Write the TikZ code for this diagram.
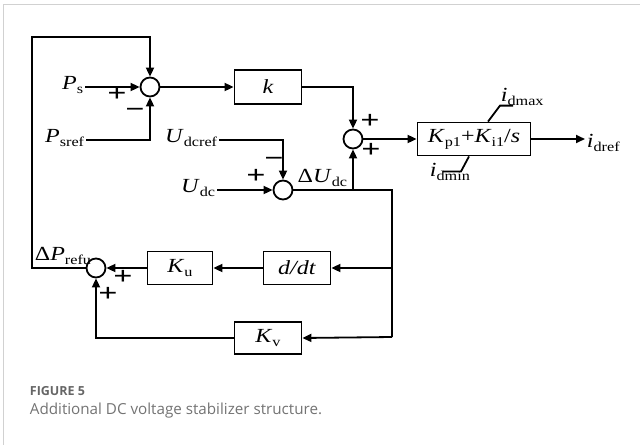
\documentclass[tikz,border=0pt]{standalone}
\usepackage{fontspec}
\setmainfont{Liberation Serif}[FakeStretch=1.2]
\newfontfamily\sgnfont{Liberation Serif}[FakeStretch=1.35]
\newfontfamily\capfont{Open Sans}
\usetikzlibrary{arrows.meta}
\newcommand{\lsub}[1]{\raisebox{-0.45ex}{\fontsize{13.5}{14}\selectfont #1}}

\begin{document}
\begin{tikzpicture}[x=1pt,y=-1pt,line width=1.8pt,
    sumnode/.style={draw,circle,minimum size=19pt,inner sep=0pt},
    blk/.style={draw,rectangle,inner sep=0pt,font=\fontsize{20}{22}\selectfont},
    lbl/.style={inner sep=1pt,font=\fontsize{20}{22}\selectfont},
    sgn/.style={inner sep=0pt,text height=8pt,text depth=0pt,font=\sgnfont\fontsize{25}{25}\selectfont\bfseries},
    arr/.style={-{Triangle[length=9pt,width=8pt]}}]
  \useasboundingbox (0,0) rectangle (640,445);
  \draw[line width=1pt,black!18] (640,4) -- (3,4) -- (3,445);

  \node[sumnode] (sum1) at (150,87) {};
  \node[sumnode] (sum2) at (353,139) {};
  \node[sumnode] (sum3) at (283,190) {};
  \node[sumnode] (sum4) at (96,268) {};

  \node[blk,minimum width=67pt,minimum height=34pt] (kbox) at (268,87) {\textit{k}};
  \node[blk,minimum width=113pt,minimum height=33pt] (pi) at (474,139)
    {\textit{K}\lsub{p1}+\textit{K}\lsub{i1}/\textit{s}};
  \node[blk,minimum width=67pt,minimum height=33pt] (ddt) at (297,268) {\textit{d/dt}};
  \node[blk,minimum width=65pt,minimum height=33pt] (ku) at (180,268) {\textit{K}\lsub{u}};
  \node[blk,minimum width=67pt,minimum height=32pt] (kv) at (268,338) {\textit{K}\lsub{v}};

  \node[lbl,anchor=mid east] (ps) at (85,87) {\textit{P}\lsub{s}};
  \node[lbl,anchor=mid east] (psref) at (86,140) {\textit{P}\lsub{sref}};
  \node[lbl,anchor=mid east] (udcref) at (219,140) {\textit{U}\lsub{dcref}};
  \node[lbl,anchor=mid east] (udc) at (217,190) {\textit{U}\lsub{dc}};
  \node[lbl,anchor=base west] (idref) at (585,147) {\textit{i}\lsub{dref}};
  \node[lbl,anchor=base west] (idmax) at (499,101) {\textit{i}\lsub{dmax}};
  \node[lbl,anchor=base west] (idmin) at (428,176) {\textit{i}\lsub{dmin}};
  \node[lbl,anchor=base east] (dudc) at (349,182) {Δ\textit{U}\lsub{dc}};
  \node[lbl,anchor=base west] (dpref) at (33,260) {Δ\textit{P}\lsub{refu}};

  \node[sgn] at (117,97) {+};
  \node[sgn] at (135,113) {\char"2212};
  \node[sgn] at (370,124) {+};
  \node[sgn] at (371,153) {+};
  \node[sgn] at (274,162) {\char"2212};
  \node[sgn] at (256,179) {+};
  \node[sgn] at (123,280) {+};
  \node[sgn] at (108,297) {+};

  \coordinate (tl) at (32,37);
  \coordinate (j1) at (392,190);
  \coordinate (j3) at (392,337);

  \draw[arr] (ps.mid east) -- (sum1.west);
  \draw[arr] (psref.mid east) -| (sum1.south);
  \draw[arr] (sum4.west) -| (tl) -| (sum1.north);
  \draw[arr] (sum1.east) -- (kbox.west);
  \draw[arr] (kbox.east) -| (sum2.north);
  \draw[arr] (sum2.east) -- (pi.west);
  \draw[arr] (pi.east) -- (pi.east -| idref.west);
  \draw ([xshift=14pt]pi.north) -- ++(12,-16) -- ++(13,0);
  \draw ([xshift=-5pt]pi.south) -- ++(-8,15) -- ++(-18,0);
  \draw[arr] (udcref.mid east) -| (sum3.north);
  \draw[arr] (udc.mid east) -- (sum3.west);
  \draw (sum3.east) -- (j1) -- (j3);
  \draw[arr] (sum2.south |- j1) -- (sum2.south);
  \draw[arr] (j1 |- ddt) -- (ddt.east);
  \draw[arr] (ddt.west) -- (ku.east);
  \draw[arr] (ku.west) -- (sum4.east);
  \draw[arr] (j3) -- (kv.east);
  \draw[arr] (kv.west) -| (sum4.south);

  \node[anchor=base west,inner sep=0pt,text=black!60,font=\capfont\fontsize{12.5}{15}\selectfont\bfseries] (fig) at (29,395) {FIGURE 5};
  \node[anchor=base west,inner sep=0pt,text=black!55,font=\capfont\fontsize{15.2}{18}\selectfont] (cap) at (29,414) {Additional DC voltage stabilizer structure.};
\end{tikzpicture}
\end{document}
